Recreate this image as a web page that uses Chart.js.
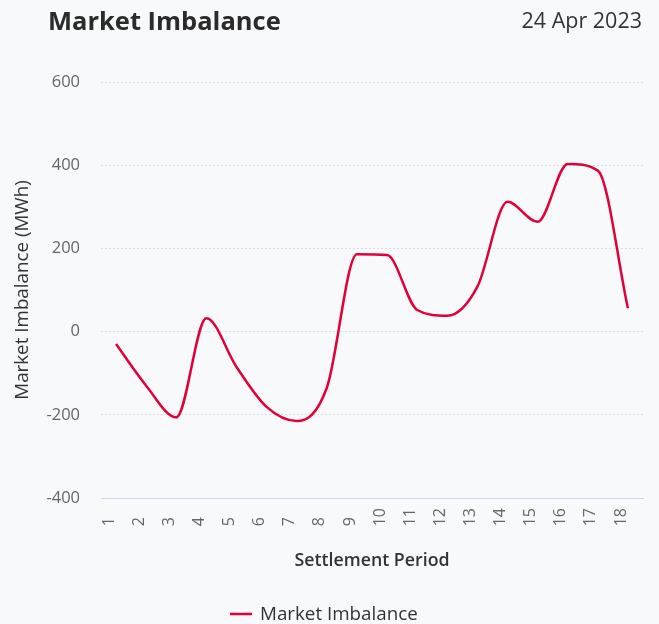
<!DOCTYPE html>
<html>
<head>
<meta charset="utf-8">
<script src="https://cdn.jsdelivr.net/npm/chart.js@4.4.0/dist/chart.umd.min.js"></script>
<style>
  html, body { margin: 0; padding: 0; background: #f8f9fb; }
  #caja { position: relative; width: 659px; height: 624px; overflow: hidden; }
  #titulo { position: absolute; left: 48px; top: 3px; font: bold 25.5px "Open Sans", sans-serif; color: #2b2b2b; }
  #fecha { position: absolute; right: 17px; top: 5px; font: 21.5px "Open Sans", sans-serif; color: #333; }
  canvas { position: absolute; left: 0; top: 0; }
</style>
</head>
<body>
<div id="caja">
  <canvas id="graficoUnico" width="659" height="624"></canvas>
  <div id="titulo">Market Imbalance</div>
  <div id="fecha">24 Apr 2023</div>
</div>
<script>
// datos
const periodos = [1, 2, 3, 4, 5, 6, 7, 8, 9, 10, 11, 12, 13, 14, 15, 16, 17, 18];
const desequilibrio = [-30, -130, -206, 32, -85, -181, -215, -135, 186, 184, 52, 38, 108, 312, 264, 403, 387, 56];
const ticksY = [-400, -200, 0, 200, 400, 600];

const colorLinea = "#e2003a";
const fuente = "'Open Sans', sans-serif";

// leyenda dibujada a mano para controlar la posicion
const leyenda = {
  id: "leyenda",
  afterDraw(chart) {
    const ctx = chart.ctx;
    const ds = chart.data.datasets[0];
    ctx.save();
    ctx.strokeStyle = ds.borderColor;
    ctx.lineWidth = 2.5;
    ctx.beginPath();
    ctx.moveTo(230, 614);
    ctx.lineTo(252, 614);
    ctx.stroke();
    ctx.fillStyle = "#333";
    ctx.font = "18.8px " + fuente;
    ctx.textBaseline = "alphabetic";
    ctx.fillText(ds.label, 260, 620);
    ctx.restore();
  }
};

const config = {
  type: "line",
  data: {
    labels: periodos,
    datasets: [{
      label: "Market Imbalance",
      data: desequilibrio,
      borderColor: colorLinea,
      backgroundColor: colorLinea,
      borderWidth: 2.5,
      pointRadius: 0,
      cubicInterpolationMode: "monotone",
      fill: false
    }]
  },
  options: {
    responsive: false,
    animation: false,
    layout: { padding: { left: 0, right: 16, top: 82, bottom: 48.4 } },
    plugins: {
      legend: { display: false },
      tooltip: { enabled: false }
    },
    scales: {
      x: {
        type: "category",
        offset: true,
        grid: { display: false, drawTicks: false },
        border: { display: true, color: "#ccd6eb", width: 1 },
        ticks: {
          autoSkip: false,
          minRotation: 90,
          maxRotation: 90,
          padding: 10,
          labelOffset: -7,
          color: "#666",
          font: { family: fuente, size: 16 },
          // espacio de cifra para que las etiquetas cortas empiecen a la misma altura
          callback: (v, i) => String(periodos[i]).length < 2 ? periodos[i] + "\u2007" : String(periodos[i])
        },
        title: {
          display: true,
          text: "Settlement Period",
          color: "#333",
          font: { family: fuente, size: 17.8, weight: "600" },
          padding: { top: 4, bottom: 4 }
        },
        afterFit: (scale) => {
          scale.height = 77.6;
          scale.paddingLeft = 0;
          scale.paddingRight = 0;
        }
      },
      y: {
        min: ticksY[0],
        max: ticksY[ticksY.length - 1],
        afterBuildTicks: (scale) => { scale.ticks = ticksY.map(v => ({ value: v })); },
        grid: { color: "#dedede", drawTicks: false },
        border: { display: false, dash: [2, 2] },
        ticks: {
          padding: 21,
          color: "#666",
          font: { family: fuente, size: 16.5 }
        },
        title: {
          display: true,
          text: "Market Imbalance (MWh)",
          color: "#333",
          font: { family: fuente, size: 18.8 },
          padding: { top: 11, bottom: 4 }
        },
        afterFit: (scale) => { scale.width = 101; }
      }
    }
  },
  plugins: [leyenda]
};

new Chart(document.getElementById("graficoUnico"), config);
</script>
</body>
</html>
